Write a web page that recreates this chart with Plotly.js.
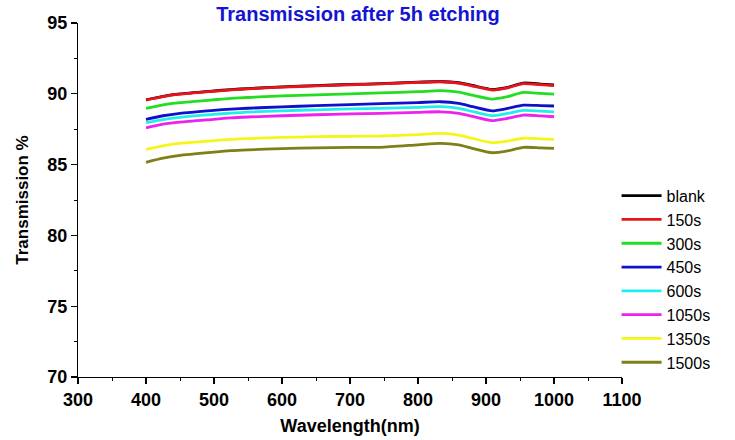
<!DOCTYPE html>
<html>
<head>
<meta charset="utf-8">
<script src="https://cdn.plot.ly/plotly-3.0.1.min.js"></script>
<style>html,body{margin:0;padding:0;background:#fff;}#chart{width:735px;height:440px;}</style>
</head>
<body>
<div id="chart"></div>
<script>
const wavelength = [400,425,450,500,525,550,600,650,700,745,800,833,860,880,909,930,955,980,1000];
const seriesNames = ["blank","150s","300s","450s","600s","1050s","1350s","1500s"];
const blank = [89.58,89.82,89.99,90.2,90.3,90.37,90.49,90.58,90.66,90.72,90.82,90.87,90.78,90.59,90.31,90.44,90.76,90.69,90.62];
const s150 = [89.56,89.8,89.97,90.18,90.28,90.35,90.47,90.56,90.64,90.7,90.8,90.85,90.75,90.55,90.27,90.4,90.72,90.65,90.58];
const s300 = [88.97,89.22,89.38,89.58,89.67,89.74,89.85,89.93,90.0,90.06,90.15,90.22,90.12,89.9,89.63,89.78,90.1,90.03,89.97];
const s450 = [88.2,88.45,88.62,88.83,88.92,88.98,89.08,89.16,89.24,89.3,89.38,89.44,89.32,89.1,88.8,88.95,89.2,89.17,89.14];
const s600 = [87.96,88.18,88.34,88.55,88.63,88.7,88.8,88.87,88.93,88.97,89.04,89.09,88.97,88.75,88.45,88.6,88.83,88.78,88.73];
const s1050 = [87.6,87.85,88.0,88.2,88.3,88.36,88.45,88.52,88.58,88.62,88.69,88.73,88.62,88.4,88.1,88.25,88.5,88.44,88.38];
const s1350 = [86.08,86.33,86.5,86.7,86.78,86.84,86.92,86.97,87.0,87.02,87.12,87.2,87.08,86.85,86.55,86.65,86.86,86.82,86.78];
const s1500 = [85.16,85.45,85.65,85.88,85.98,86.04,86.13,86.18,86.22,86.22,86.4,86.5,86.4,86.15,85.84,85.95,86.22,86.18,86.15];
const allSeries = [blank,s150,s300,s450,s600,s1050,s1350,s1500];
const colors = ["#000000","#e8141c","#22dd22","#1010cc","#22eeee","#ee22ee","#f5f51a","#7f7f18"];
const xTicks = [300,400,500,600,700,800,900,1000,1100];
const yTicks = [70,75,80,85,90,95];

const font = "Liberation Sans, Arial, sans-serif";
const traces = allSeries.map((ys,i)=>({
  x: wavelength, y: ys, type:'scatter', mode:'lines', name: seriesNames[i],
  line:{color:colors[i], width:2.8, shape:'spline', smoothing:0.6}
}));

const layout = {
  width:735, height:440,
  margin:{l:78, r:113, t:23, b:63},
  paper_bgcolor:'#fff', plot_bgcolor:'#fff',
  font:{family:font, color:'#000'},
  title:{text:'<b>Transmission after 5h etching</b>', font:{family:font, size:20, color:'#1414d2'}, x:0.487, xanchor:'center', y:0.985, yanchor:'top'},
  xaxis:{range:[300,1100], tickvals:xTicks, ticktext:xTicks.map(String), showgrid:false, zeroline:false,
    showline:true, linecolor:'#000', linewidth:1.2, ticks:'outside', ticklen:6, tickwidth:1.2, tickcolor:'#000',
    tickfont:{family:font, size:18, color:'#000', weight:'bold'},
    minor:{ticks:'outside', ticklen:3, tickwidth:1, tickcolor:'#000', dtick:50, showgrid:false},
    title:{text:'<b>Wavelength(nm)</b>', font:{family:font, size:18, color:'#000'}, standoff:10}},
  yaxis:{range:[70,95], tickvals:yTicks, ticktext:yTicks.map(String), showgrid:false, zeroline:false,
    showline:true, linecolor:'#000', linewidth:1.2, ticks:'outside', ticklen:6, tickwidth:1.2, tickcolor:'#000',
    tickfont:{family:font, size:18, color:'#000', weight:'bold'},
    minor:{ticks:'outside', ticklen:3, tickwidth:1, tickcolor:'#000', dtick:2.5, showgrid:false},
    title:{text:'<b>Transmission %</b>', font:{family:font, size:17, color:'#000'}, standoff:14}},
  legend:{x:0.99, xanchor:'left', y:0.56, yanchor:'top', bgcolor:'rgba(0,0,0,0)',
    font:{family:font, size:16, color:'#000'}, tracegroupgap:0, itemwidth:40},
  showlegend:true
};
Plotly.newPlot('chart', traces, layout, {displayModeBar:false, staticPlot:true});
</script>
</body>
</html>
